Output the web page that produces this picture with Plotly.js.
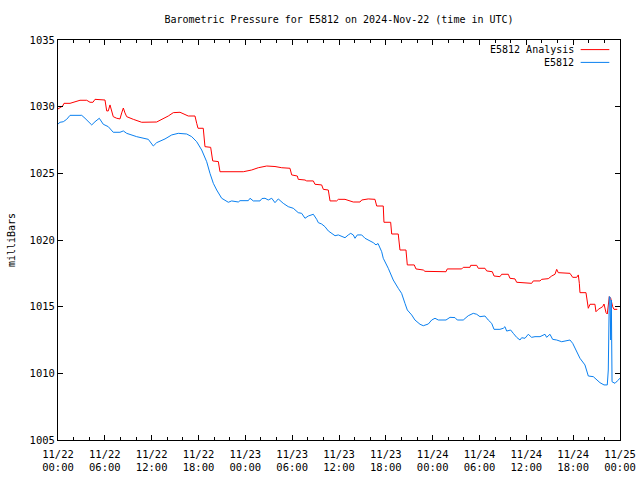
<!DOCTYPE html>
<html>
<head>
<meta charset="utf-8">
<script src="https://cdn.plot.ly/plotly-3.0.1.min.js"></script>
<style>html,body{margin:0;padding:0;background:#fff;}#chart{width:640px;height:480px;}</style>
</head>
<body>
<div id="chart"></div>
<script>
// Hours since 2024-11-22 00:00 UTC
const analysisName = 'E5812 Analysis';
const stationName = 'E5812';

const analysisHours = [0.00,0.60,0.77,1.54,2.82,3.68,4.10,4.48,4.74,5.60,6.02,6.24,6.44,6.66,6.88,7.08,7.52,7.94,8.16,8.37,8.58,8.80,9.65,10.72,12.64,13.71,14.13,14.77,15.63,16.69,17.55,17.77,17.94,18.61,18.83,19.56,19.82,20.54,20.75,23.74,24.81,25.66,26.74,27.80,28.66,29.72,29.94,30.66,30.78,31.64,31.86,32.71,32.92,33.78,33.99,34.63,34.85,35.70,35.91,36.77,36.98,37.83,38.69,38.91,39.75,40.61,40.83,41.67,41.76,42.62,42.75,43.59,43.81,44.58,44.75,45.64,45.86,46.80,47.01,49.71,49.87,51.72,51.92,52.78,52.87,53.64,53.84,54.70,54.92,55.64,55.86,56.62,56.84,57.69,57.90,58.55,58.76,59.61,59.83,60.68,60.89,61.75,61.97,62.81,63.25,63.67,63.89,64.09,65.59,65.94,66.45,66.66,66.79,66.87,67.64,67.81,67.94,68.16,68.79,68.92,69.22,69.78,69.95,70.21,70.37,70.63,70.81,71.06,71.23,71.65];
const analysisValues = [1029.83,1030.05,1030.25,1030.25,1030.48,1030.48,1030.33,1030.33,1030.55,1030.55,1030.50,1029.68,1029.68,1030.13,1029.63,1029.25,1029.13,1029.08,1029.53,1029.90,1029.53,1029.25,1029.05,1028.83,1028.85,1029.13,1029.30,1029.55,1029.58,1029.30,1029.30,1028.75,1028.38,1028.38,1027.00,1026.95,1025.93,1025.88,1025.12,1025.12,1025.25,1025.42,1025.55,1025.51,1025.42,1025.38,1024.88,1024.80,1024.55,1024.50,1024.43,1024.43,1024.18,1024.13,1023.80,1023.75,1022.93,1022.93,1023.05,1023.05,1023.00,1022.85,1022.85,1023.00,1023.08,1023.05,1022.55,1022.55,1021.33,1021.33,1020.45,1020.45,1019.25,1019.25,1018.13,1018.13,1017.83,1017.75,1017.65,1017.62,1017.83,1017.83,1017.95,1017.95,1018.10,1018.10,1017.88,1017.88,1017.68,1017.62,1017.30,1017.25,1017.43,1017.43,1017.13,1017.08,1016.83,1016.80,1016.75,1016.75,1016.93,1016.93,1017.05,1017.10,1017.30,1017.43,1017.80,1017.55,1017.50,1017.20,1017.20,1017.38,1016.75,1016.05,1016.05,1015.13,1014.88,1015.18,1015.18,1014.62,1014.80,1015.00,1015.20,1014.55,1014.45,1015.75,1015.63,1015.00,1014.80,1014.80];

const stationHours = [0.00,0.26,0.68,1.11,1.54,3.04,3.46,3.88,4.32,4.74,5.29,5.80,6.44,7.08,7.94,8.37,8.80,10.08,11.57,12.21,12.64,13.71,14.57,15.41,16.49,17.13,17.77,18.41,19.05,19.47,19.90,20.33,20.97,21.82,22.25,23.10,23.32,24.38,24.60,25.02,25.88,26.13,26.52,26.94,27.38,27.80,28.22,28.86,29.50,30.14,30.78,31.22,31.64,32.07,32.71,33.14,33.35,33.78,34.20,34.63,35.06,35.49,35.91,36.34,36.77,37.19,37.50,37.83,38.05,38.34,38.91,39.33,39.75,40.19,40.39,40.74,41.00,41.47,41.67,42.31,42.95,43.59,44.02,44.45,44.75,45.31,45.73,46.38,46.80,47.44,47.88,48.30,48.72,49.71,50.22,50.86,51.15,51.92,52.56,53.20,53.64,54.06,54.70,55.12,55.56,55.86,56.62,57.05,57.26,57.48,57.99,58.33,58.76,59.19,59.40,59.83,60.25,60.68,61.11,61.75,62.39,62.60,63.03,63.37,63.89,64.53,65.17,65.59,65.94,66.45,66.87,67.51,67.94,68.58,69.01,69.43,69.95,70.37,70.50,70.63,70.72,70.81,70.89,70.98,71.36,71.65,72.00];
const stationValues = [1028.70,1028.83,1028.87,1029.05,1029.35,1029.35,1029.13,1028.87,1028.63,1028.87,1029.13,1028.68,1028.50,1028.08,1028.08,1028.18,1028.00,1027.75,1027.55,1027.05,1027.30,1027.58,1027.88,1028.00,1027.95,1027.75,1027.37,1026.75,1025.87,1025.00,1024.25,1023.75,1023.13,1022.83,1022.93,1022.85,1022.95,1022.95,1023.13,1022.93,1022.93,1023.11,1023.13,1023.00,1023.13,1022.80,1023.08,1022.75,1022.50,1022.38,1022.05,1022.00,1021.63,1021.80,1021.93,1021.55,1021.30,1021.20,1021.00,1020.68,1020.50,1020.32,1020.38,1020.30,1020.17,1020.38,1020.50,1020.38,1020.13,1020.38,1020.38,1020.13,1020.00,1019.87,1019.80,1019.63,1019.74,1019.12,1018.63,1017.88,1017.00,1016.38,1016.00,1015.25,1014.75,1014.38,1014.00,1013.68,1013.57,1013.70,1014.00,1014.13,1014.00,1014.00,1014.20,1014.18,1014.00,1014.00,1014.32,1014.50,1014.43,1014.25,1014.30,1014.00,1013.75,1013.30,1013.30,1013.38,1013.50,1013.17,1013.25,1013.00,1012.70,1012.50,1012.67,1012.63,1012.93,1012.70,1012.75,1012.75,1012.93,1012.70,1012.93,1012.55,1012.50,1012.37,1012.45,1012.50,1012.25,1011.62,1011.13,1010.63,1009.80,1009.75,1009.50,1009.30,1009.13,1009.13,1010.25,1015.75,1015.73,1012.50,1015.50,1009.37,1009.25,1009.43,1009.63];

const tickHours = [0,6,12,18,24,30,36,42,48,54,60,66,72];
const tickLabels = ['11/22<br>00:00','11/22<br>06:00','11/22<br>12:00','11/22<br>18:00','11/23<br>00:00','11/23<br>06:00','11/23<br>12:00','11/23<br>18:00','11/24<br>00:00','11/24<br>06:00','11/24<br>12:00','11/24<br>18:00','11/25<br>00:00'];

const t0 = Date.UTC(2024, 10, 22);
const toMs = h => t0 + h * 3600000;

const redColor = '#ff0000';
const blueColor = '#0a80f0';
const font = {family: 'DejaVu Sans Mono, monospace', size: 10, color: '#000'};
const tickFont = {family: 'DejaVu Sans Mono, monospace', size: 10.5, color: '#000'};

const traces = [
  {x: analysisHours.map(toMs), y: analysisValues, type: 'scatter', mode: 'lines', name: analysisName,
   line: {color: redColor, width: 1}},
  {x: stationHours.map(toMs), y: stationValues, type: 'scatter', mode: 'lines', name: stationName,
   line: {color: blueColor, width: 1}}
];

// gnuplot-style key: right-aligned text followed by a line sample
const keyRows = [
  {name: analysisName, color: redColor, y: 0.976},
  {name: stationName, color: blueColor, y: 0.944}
];

const layout = {
  width: 640, height: 480,
  margin: {l: 58, r: 20, t: 40, b: 40},
  paper_bgcolor: '#fff', plot_bgcolor: '#fff',
  font: font,
  showlegend: false,
  title: {text: 'Barometric Pressure for E5812 on 2024-Nov-22 (time in UTC)', font: font,
          x: 0.5, xref: 'paper', xanchor: 'center', y: 1 - 19/480, yref: 'container', yanchor: 'middle'},
  xaxis: {
    type: 'date', range: [toMs(0), toMs(72)],
    tickmode: 'array', tickvals: tickHours.map(toMs), ticktext: tickLabels,
    ticks: 'inside', ticklen: 5, tickcolor: '#000', tickwidth: 1, ticklabelstandoff: 4,
    minor: {ticks: 'inside', ticklen: 3, tickcolor: '#000', dtick: 7200000, tick0: toMs(0), showgrid: false},
    showline: true, linecolor: '#000', linewidth: 1, mirror: 'allticks',
    showgrid: false, zeroline: false, tickfont: tickFont, fixedrange: true
  },
  yaxis: {
    range: [1005, 1035], dtick: 5, tick0: 1005,
    ticks: 'inside', ticklen: 5, tickcolor: '#000', tickwidth: 1,
    showline: true, linecolor: '#000', linewidth: 1, mirror: 'allticks',
    showgrid: false, zeroline: false, tickfont: tickFont,
    title: {text: 'milliBars', font: font, standoff: 12}, automargin: false
  },
  annotations: keyRows.map(r => ({
    text: r.name, xref: 'paper', yref: 'paper', x: 0.921, y: r.y,
    xanchor: 'right', yanchor: 'middle', showarrow: false, font: font
  })),
  shapes: keyRows.map(r => ({
    type: 'line', xref: 'paper', yref: 'paper', x0: 0.930, x1: 0.981, y0: r.y, y1: r.y,
    line: {color: r.color, width: 1}
  }))
};

Plotly.newPlot('chart', traces, layout, {displayModeBar: false, staticPlot: true});
</script>
</body>
</html>
